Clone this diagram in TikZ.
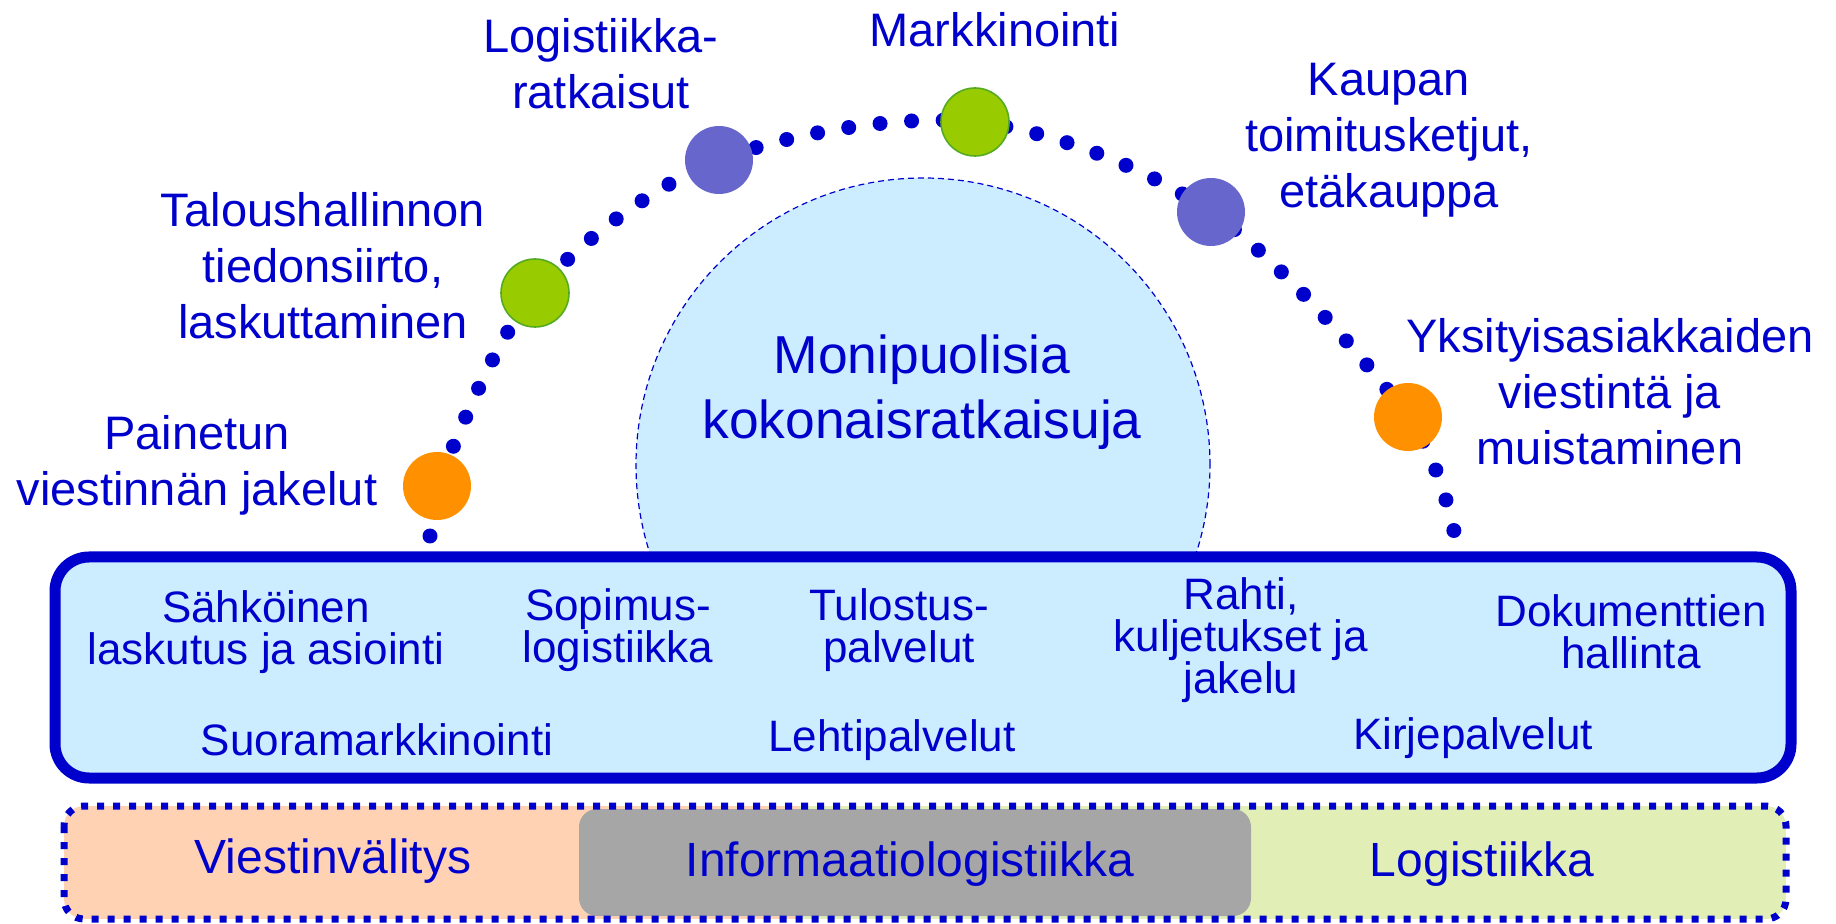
\documentclass[tikz,border=0pt]{standalone}
\usepackage{fontspec}
\setmainfont{Liberation Sans}
\definecolor{txtblue}{HTML}{0000CC}
\definecolor{boxfill}{HTML}{CCECFF}
\definecolor{dotorange}{HTML}{FF9000}
\definecolor{dotgreen}{HTML}{99CC00}
\definecolor{dotgreenline}{HTML}{55AA22}
\definecolor{dotpurple}{HTML}{6666CC}
\definecolor{peach}{HTML}{FFD2B4}
\definecolor{paleg}{HTML}{E1EFB6}
\definecolor{midgray}{HTML}{A6A6A6}
\tikzset{
  outertext/.style={text=txtblue, align=center, font=\fontsize{23.5}{28}\selectfont},
  boxtext/.style={text=txtblue, align=center, font=\fontsize{22}{21}\selectfont},
  bandtext/.style={text=txtblue, font=\fontsize{24}{28}\selectfont},
  ball/.style={circle, minimum size=34pt, inner sep=0pt},
  dotarc/.style={draw=txtblue, line width=7.5pt, line cap=round, dash pattern=on 0pt off 15.8pt},
}
\begin{document}
\begin{tikzpicture}[x=0.5pt, y=-0.5pt]
    \useasboundingbox (0,0) rectangle (1836,924);

    % iso ympyra keskella
    \node[circle, minimum size=287pt, inner sep=0pt, fill=boxfill, draw=txtblue, line width=0.6pt, dash pattern=on 3pt off 2pt] (core) at (923,465) {};
    \node[text=txtblue, align=center, font=\fontsize{26.7}{32.5}\selectfont] (coretext) at (922,392) {Monipuolisia\\kokonaisratkaisuja};

    % pallot
    \coordinate (arcstart) at (430,536);
    \coordinate (arcend) at (1458,552);
    \node[ball] (o1) at (437,486) {};
    \node[ball] (g1) at (535,293) {};
    \node[ball] (p1) at (719,160) {};
    \node[ball] (g2) at (975,122) {};
    \node[ball] (p2) at (1211,212) {};
    \node[ball] (o2) at (1408,417) {};
    \draw[dotarc] plot[smooth, tension=0.55] coordinates {(arcstart) (o1.center) (g1.center) (p1.center) (g2.center) (p2.center) (o2.center) (arcend)};
    \node[ball, fill=dotorange] at (o1) {};
    \node[ball, fill=dotgreen, draw=dotgreenline, line width=0.8pt] at (g1) {};
    \node[ball, fill=dotpurple] at (p1) {};
    \node[ball, fill=dotgreen, draw=dotgreenline, line width=0.8pt] at (g2) {};
    \node[ball, fill=dotpurple] at (p2) {};
    \node[ball, fill=dotorange] at (o2) {};

    \node[outertext] (painetun) at (197,465) {Painetun\\viestinnän jakelut};
    \node[outertext] (talous) at (323,266) {Taloushallinnon\\tiedonsiirto,\\laskuttaminen};
    \node[outertext] (logratk) at (601,64) {Logistiikka-\\ratkaisut};
    \node[outertext] (markk) at (995,30) {Markkinointi};
    \node[outertext] (kaupan) at (1389,140) {Kaupan\\toimitusketjut,\\etäkauppa};
    \node[outertext] (yksit) at (1610,392) {Yksityisasiakkaiden\\viestintä ja\\muistaminen};

    % palvelulaatikko
    \draw[draw=txtblue, fill=boxfill, line width=5.5pt, rounded corners=17pt] (55,557) rectangle (1791,778);
    \node[boxtext] (sahk) at (266,632) {Sähköinen\\laskutus ja asiointi};
    \node[boxtext] (sopimus) at (618,630) {Sopimus-\\logistiikka};
    \node[boxtext] (tulostus) at (899,630) {Tulostus-\\palvelut};
    \node[boxtext] (rahti) at (1241,640) {Rahti,\\kuljetukset ja\\jakelu};
    \node[boxtext] (dokum) at (1631,632) {Dokumenttien\\hallinta};
    \node[boxtext] (suora) at (377,740) {Suoramarkkinointi};
    \node[boxtext] (lehti) at (892,740) {Lehtipalvelut};
    \node[boxtext] (kirje) at (1473,738) {Kirjepalvelut};

    % alarivi
    \begin{scope}
        \clip[rounded corners=10pt] (64,806) rectangle (1786,919);
        \fill[peach] (64,806) rectangle (800,919);
        \fill[paleg] (800,806) rectangle (1786,919);
    \end{scope}
    \fill[midgray, rounded corners=9pt] (579,809) rectangle (1251,916);
    \draw[draw=txtblue, line width=3.5pt, dash pattern=on 3.5pt off 4.5pt, rounded corners=10pt] (64,806) rectangle (1786,919);
    \node[bandtext] (viest) at (333,861) {Viestinvälitys};
    \node[bandtext] (infolog) at (910,864) {Informaatiologistiikka};
    \node[bandtext] (logist) at (1482,864) {Logistiikka};
\end{tikzpicture}
\end{document}
